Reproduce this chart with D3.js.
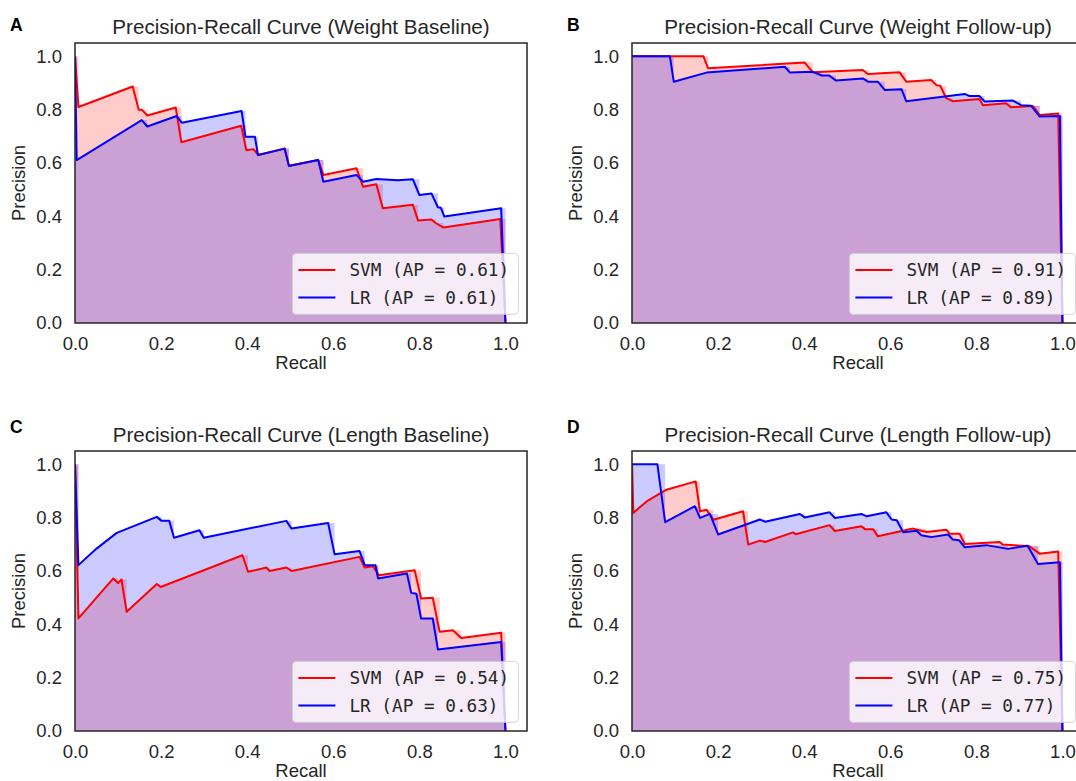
<!DOCTYPE html>
<html>
<head>
<meta charset="utf-8">
<script src="https://cdn.jsdelivr.net/npm/d3@7"></script>
<style>
  body { margin: 0; background: #fff; }
  svg { display: block; }
  .tick text { font-family: "Liberation Sans", Arial, sans-serif; font-size: 18.5px; fill: #262626; }
</style>
</head>
<body>
<script>
// ---- data: [recall, precision] ----
var titles = [
  "Precision-Recall Curve (Weight Baseline)",
  "Precision-Recall Curve (Weight Follow-up)",
  "Precision-Recall Curve (Length Baseline)",
  "Precision-Recall Curve (Length Follow-up)"
];
var letters = ["A", "B", "C", "D"];
var apSVM = ["0.61", "0.91", "0.54", "0.75"];
var apLR = ["0.61", "0.89", "0.63", "0.77"];
var axisTicks = [0, 0.2, 0.4, 0.6, 0.8, 1.0];

var svmA = [[0,1.0],[0.008,0.81],[0.134,0.887],[0.148,0.80],[0.155,0.80],[0.168,0.778],[0.234,0.808],[0.247,0.678],
  [0.386,0.74],[0.398,0.648],[0.414,0.652],[0.426,0.63],[0.487,0.654],[0.497,0.59],[0.565,0.611],[0.577,0.555],
  [0.654,0.58],[0.669,0.511],[0.70,0.52],[0.715,0.43],[0.785,0.443],[0.797,0.384],[0.828,0.388],[0.838,0.375],
  [0.856,0.358],[0.988,0.39],[1.0,0.0]];
var lrA = [[0,1.0],[0.004,0.611],[0.155,0.761],[0.168,0.737],[0.236,0.776],[0.248,0.751],[0.387,0.795],[0.396,0.698],
  [0.418,0.698],[0.425,0.63],[0.487,0.654],[0.497,0.589],[0.565,0.611],[0.577,0.53],[0.654,0.555],[0.669,0.53],
  [0.70,0.54],[0.75,0.535],[0.785,0.539],[0.80,0.48],[0.828,0.486],[0.843,0.434],[0.85,0.432],[0.858,0.399],
  [0.99,0.43],[1.0,0.0]];

var svmB = [[0,1.0],[0.166,1.0],[0.177,0.955],[0.401,0.977],[0.42,0.94],[0.536,0.949],[0.548,0.934],[0.622,0.94],
  [0.637,0.905],[0.695,0.911],[0.707,0.892],[0.716,0.89],[0.73,0.843],[0.745,0.832],[0.807,0.84],[0.815,0.817],
  [0.869,0.824],[0.88,0.809],[0.931,0.814],[0.947,0.78],[0.99,0.786],[1.0,0.0]];
var lrB = [[0,1.0],[0.088,1.0],[0.097,0.905],[0.173,0.939],[0.355,0.961],[0.367,0.939],[0.42,0.942],[0.441,0.928],
  [0.458,0.928],[0.474,0.909],[0.536,0.917],[0.548,0.905],[0.571,0.905],[0.587,0.874],[0.626,0.877],[0.637,0.832],
  [0.773,0.859],[0.784,0.851],[0.807,0.851],[0.819,0.831],[0.885,0.834],[0.904,0.817],[0.927,0.815],[0.947,0.774],
  [0.994,0.776],[1.0,0.0]];

var svmC = [[0,1.0],[0.008,0.422],[0.089,0.572],[0.1,0.555],[0.108,0.568],[0.12,0.447],[0.19,0.551],[0.199,0.54],
  [0.389,0.659],[0.402,0.597],[0.445,0.613],[0.452,0.6],[0.491,0.613],[0.503,0.6],[0.661,0.653],[0.673,0.613],
  [0.692,0.618],[0.706,0.584],[0.789,0.603],[0.804,0.497],[0.831,0.50],[0.847,0.372],[0.878,0.378],[0.897,0.349],
  [0.99,0.368],[1.0,0.0]];
var lrC = [[0,1.0],[0.008,0.622],[0.05,0.684],[0.097,0.743],[0.19,0.803],[0.201,0.788],[0.219,0.788],[0.23,0.725],
  [0.289,0.753],[0.299,0.725],[0.491,0.788],[0.503,0.759],[0.588,0.78],[0.603,0.663],[0.661,0.675],[0.673,0.622],
  [0.698,0.622],[0.704,0.572],[0.771,0.591],[0.781,0.518],[0.793,0.515],[0.804,0.422],[0.831,0.422],[0.843,0.306],
  [0.99,0.334],[1.0,0.0]];

var svmD = [[0,1.0],[0.003,0.818],[0.034,0.861],[0.08,0.905],[0.148,0.936],[0.158,0.824],[0.173,0.83],[0.189,0.792],
  [0.258,0.824],[0.27,0.699],[0.297,0.714],[0.309,0.709],[0.374,0.745],[0.38,0.738],[0.459,0.772],[0.471,0.75],
  [0.533,0.768],[0.541,0.757],[0.56,0.757],[0.571,0.73],[0.653,0.759],[0.684,0.746],[0.73,0.755],[0.738,0.74],
  [0.761,0.74],[0.773,0.701],[0.854,0.709],[0.861,0.699],[0.923,0.693],[0.947,0.665],[0.99,0.673],[1.0,0.0]];
var lrD = [[0,1.0],[0.059,1.0],[0.077,0.783],[0.146,0.843],[0.158,0.799],[0.181,0.814],[0.2,0.737],[0.297,0.793],
  [0.309,0.785],[0.39,0.814],[0.401,0.801],[0.459,0.82],[0.471,0.799],[0.533,0.814],[0.545,0.805],[0.591,0.82],
  [0.603,0.793],[0.615,0.79],[0.63,0.745],[0.661,0.751],[0.672,0.734],[0.695,0.727],[0.734,0.737],[0.745,0.718],
  [0.76,0.715],[0.773,0.689],[0.823,0.697],[0.873,0.683],[0.919,0.695],[0.943,0.626],[0.994,0.633],[1.0,0.0]];

var svmSeries = [svmA, svmB, svmC, svmD];
var lrSeries = [lrA, lrB, lrC, lrD];

// ---- layout ----
var width = 1076, height = 781;
var pw = 452, ph = 280;
var lefts = [75, 632, 75, 632];
var tops = [43, 43, 451, 451];
var sans = '"Liberation Sans", Arial, sans-serif';
var mono = '"DejaVu Sans Mono", monospace';
var ink = "#262626";

var svg = d3.select("body").append("svg")
  .attr("width", width)
  .attr("height", height);

function drawPanel(i) {
  var left = lefts[i], top = tops[i];
  var x = d3.scaleLinear().domain([0, 1.05]).range([left, left + pw]);
  var y = d3.scaleLinear().domain([0, 1.05]).range([top + ph, top]);
  var g = svg.append("g");

  var clipId = "clip" + i;
  g.append("clipPath").attr("id", clipId)
    .append("rect").attr("x", left).attr("y", top).attr("width", pw).attr("height", ph);

  var plot = g.append("g").attr("clip-path", "url(#" + clipId + ")");

  // fill = union of the post-step area and the area under the line, one alpha per series
  var stepArea = d3.area().x(function(d) { return x(d[0]); })
    .y0(y(0)).y1(function(d) { return y(d[1]); }).curve(d3.curveStepAfter);
  var lineArea = d3.area().x(function(d) { return x(d[0]); })
    .y0(y(0)).y1(function(d) { return y(d[1]); });
  var line = d3.line().x(function(d) { return x(d[0]); }).y(function(d) { return y(d[1]); });

  var series = [[svmSeries[i], "#ff0000"], [lrSeries[i], "#0000ff"]];
  series.forEach(function(s) {
    var fg = plot.append("g").attr("opacity", 0.2).attr("fill", s[1]);
    fg.append("path").attr("d", stepArea(s[0]));
    fg.append("path").attr("d", lineArea(s[0]));
  });
  series.forEach(function(s) {
    plot.append("path").attr("d", line(s[0]))
      .attr("fill", "none").attr("stroke", s[1]).attr("stroke-width", 2)
      .attr("stroke-linejoin", "round");
  });

  // axes (no tick marks, seaborn-white look)
  var fmt = d3.format(".1f");
  var xa = g.append("g").attr("transform", "translate(0," + (top + ph) + ")")
    .call(d3.axisBottom(x).tickValues(axisTicks).tickSize(0).tickPadding(14).tickFormat(fmt));
  xa.select(".domain").remove();
  var ya = g.append("g").attr("transform", "translate(" + left + ",0)")
    .call(d3.axisLeft(y).tickValues(axisTicks).tickSize(0).tickPadding(13).tickFormat(fmt));
  ya.select(".domain").remove();

  g.append("text")
    .attr("x", left + pw / 2).attr("y", top + ph + 46)
    .attr("text-anchor", "middle")
    .attr("font-family", sans).attr("font-size", 18.5).attr("fill", ink)
    .text("Recall");
  g.append("text")
    .attr("transform", "translate(" + (left - 50) + "," + (top + ph / 2) + ") rotate(-90)")
    .attr("text-anchor", "middle")
    .attr("font-family", sans).attr("font-size", 18.5).attr("fill", ink)
    .text("Precision");

  g.append("text")
    .attr("x", left + pw / 2).attr("y", top - 9)
    .attr("text-anchor", "middle")
    .attr("font-family", sans).attr("font-size", 20.6).attr("fill", ink)
    .text(titles[i]);

  g.append("text")
    .attr("x", left - 65).attr("y", i < 2 ? top - 12 : top - 18)
    .attr("font-family", sans).attr("font-size", 17.5).attr("font-weight", "bold").attr("fill", "#000")
    .text(letters[i]);

  // legend
  var lw = 226, lh = 61;
  var lx = left + pw - 8.6 - lw, ly = top + ph - 8.6 - lh;
  var leg = g.append("g");
  leg.append("rect")
    .attr("x", lx).attr("y", ly).attr("width", lw).attr("height", lh)
    .attr("rx", 4).attr("ry", 4)
    .attr("fill", "#fff").attr("fill-opacity", 0.8)
    .attr("stroke", "#cccccc").attr("stroke-opacity", 0.8);
  var rows = [["SVM (AP = " + apSVM[i] + ")", "#ff0000"], ["LR (AP = " + apLR[i] + ")", "#0000ff"]];
  rows.forEach(function(r, k) {
    var ry = ly + 16.5 + k * 27.5;
    leg.append("line")
      .attr("x1", lx + 6).attr("x2", lx + 43).attr("y1", ry).attr("y2", ry)
      .attr("stroke", r[1]).attr("stroke-width", 2);
    leg.append("text")
      .attr("x", lx + 57).attr("y", ry).attr("dy", "0.35em")
      .attr("font-family", mono).attr("font-size", 17.7).attr("fill", ink)
      .attr("xml:space", "preserve")
      .text(r[0]);
  });

  g.append("rect")
    .attr("x", left).attr("y", top).attr("width", pw).attr("height", ph)
    .attr("fill", "none").attr("stroke", ink).attr("stroke-width", 1.5);
}

for (var i = 0; i < 4; i++) drawPanel(i);
</script>
</body>
</html>
